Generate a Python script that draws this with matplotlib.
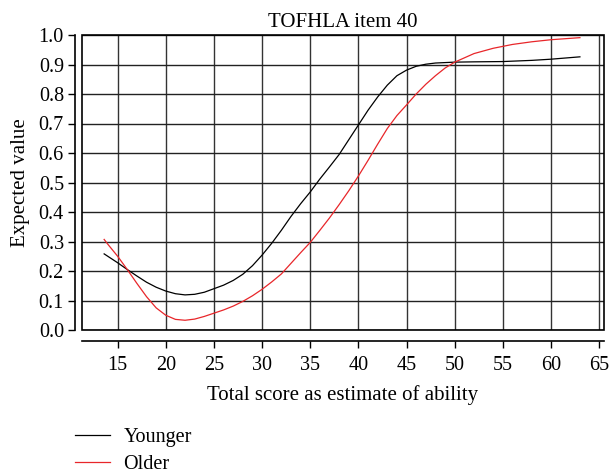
import matplotlib
matplotlib.use("Agg")
import matplotlib.pyplot as plt
from matplotlib.patches import Rectangle

title = "TOFHLA item 40"
xlabel = "Total score as estimate of ability"
ylabel = "Expected value"

younger_x = [13.6, 15, 16, 17, 18, 19, 20, 21, 22, 23, 24, 25, 26, 27, 28, 29, 30,
             31, 32, 33, 34, 35, 36, 37, 38, 39, 40, 41, 42, 43, 44, 45, 46, 47,
             48, 50, 52, 55, 58, 60, 63]
younger_y = [0.258, 0.228, 0.205, 0.183, 0.162, 0.145, 0.132, 0.123, 0.119, 0.121,
             0.128, 0.140, 0.152, 0.168, 0.189, 0.218, 0.254, 0.294, 0.338, 0.385,
             0.428, 0.468, 0.512, 0.553, 0.595, 0.645, 0.695, 0.745, 0.790, 0.830,
             0.862, 0.881, 0.894, 0.901, 0.905, 0.908, 0.909, 0.910, 0.914, 0.918,
             0.926]

older_x = [13.6, 14, 15, 16, 17, 18, 19, 20, 21, 22, 23, 24, 25, 26, 27, 28, 29, 30,
           31, 32, 33, 34, 35, 36, 37, 38, 39, 40, 41, 42, 43, 44, 45, 46, 47, 48,
           49, 50, 52, 54, 56, 58, 60, 63]
older_y = [0.307, 0.290, 0.250, 0.205, 0.158, 0.113, 0.075, 0.050, 0.036, 0.033,
           0.037, 0.046, 0.057, 0.068, 0.081, 0.097, 0.116, 0.138, 0.163, 0.190,
           0.226, 0.262, 0.297, 0.338, 0.380, 0.425, 0.472, 0.522, 0.575, 0.630,
           0.683, 0.727, 0.763, 0.800, 0.833, 0.862, 0.888, 0.908, 0.937, 0.955,
           0.968, 0.977, 0.984, 0.991]

xticks = [15, 20, 25, 30, 35, 40, 45, 50, 55, 60, 65]
yticks = [0.0, 0.1, 0.2, 0.3, 0.4, 0.5, 0.6, 0.7, 0.8, 0.9, 1.0]

plt.rcParams['font.family'] = ['Liberation Serif', 'DejaVu Serif']

fig = plt.figure(figsize=(6.11, 4.75), dpi=100)
ax = fig.add_axes([82/611, 1-330/475, (604-82)/611, (330-35)/475])

ax.set_xlim(11.3, 65.5)
ax.set_ylim(0.0, 1.0)

for xv in xticks:
    ax.axvline(xv, color='#333333', lw=1.0, zorder=1)
for yv in yticks:
    ax.axhline(yv, color='#222222', lw=1.0, zorder=1)

ax.plot(younger_x, younger_y, color='black', lw=0.9, label='Younger', zorder=3)
ax.plot(older_x, older_y, color='#e8262a', lw=0.9, label='Older', zorder=3)

ax.add_patch(Rectangle((0, 0), 1, 1, transform=ax.transAxes, fill=False,
                       edgecolor='black', lw=1.2, zorder=4, clip_on=False))

for s in ['top', 'right']:
    ax.spines[s].set_visible(False)
ax.spines['left'].set_position(('outward', 5))
ax.spines['bottom'].set_position(('outward', 8))
ax.spines['left'].set_linewidth(1.2)
ax.spines['bottom'].set_linewidth(1.2)

ax.set_xticks(xticks)
ax.set_xticklabels([str(v) for v in xticks])
ax.set_yticks(yticks)
ax.set_yticklabels([f"{v:.1f}" for v in yticks])
ax.tick_params(axis='both', direction='out', length=5, width=1.0, labelsize=14.5, pad=3)
ax.tick_params(axis='x', pad=6)

ax.set_title(title, fontsize=15, pad=6)
ax.set_xlabel(xlabel, fontsize=15, labelpad=7)
ax.set_ylabel(ylabel, fontsize=15, labelpad=6)

handles, labels = ax.get_legend_handles_labels()
fig.legend(handles, labels, loc='upper left', bbox_to_anchor=(67/611, 1-420/475),
           frameon=False, fontsize=14.5, handlelength=1.75, handletextpad=0.65,
           labelspacing=0.38, borderaxespad=0)

fig.savefig("out.png", dpi=100)
